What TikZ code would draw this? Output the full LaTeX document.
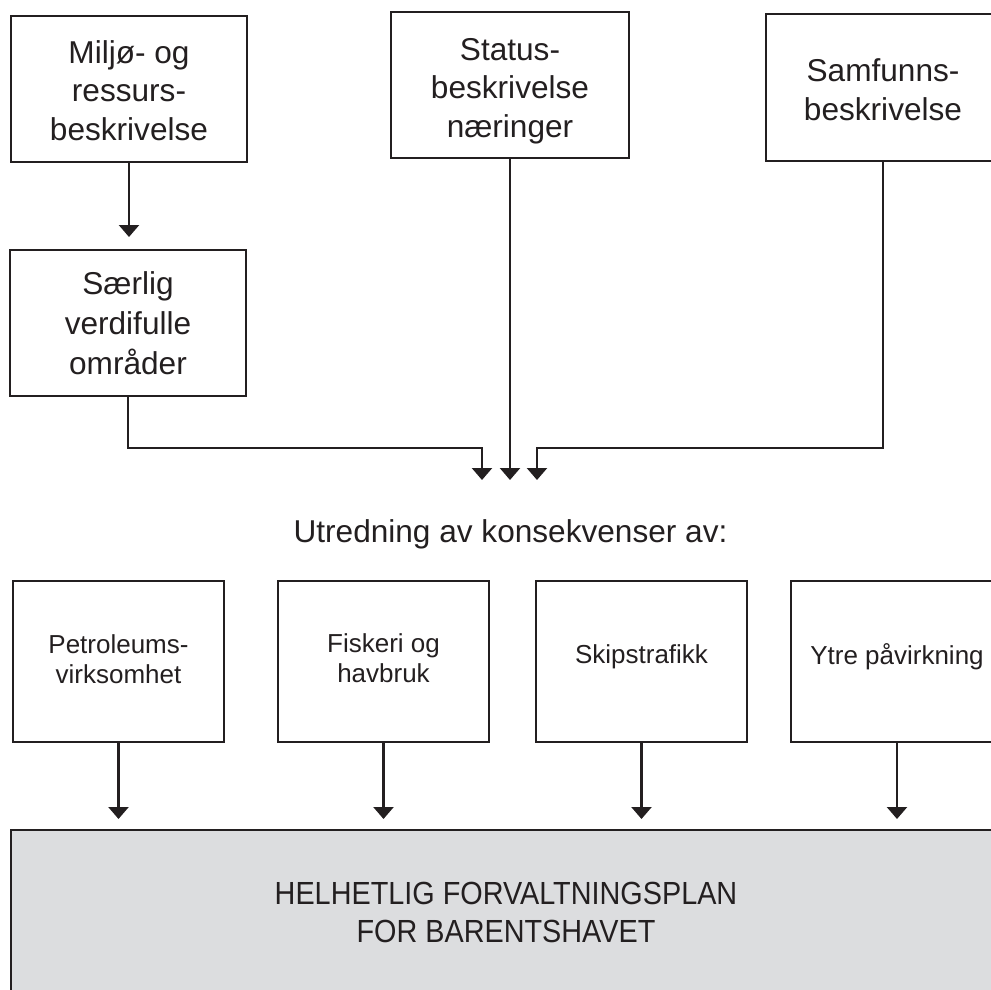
\documentclass[tikz,border=0pt]{standalone}
\usepackage{fontspec}
\setmainfont{Liberation Sans}
\newfontfamily\narrowfont[FakeStretch=0.9]{Liberation Sans}
\usetikzlibrary{arrows.meta}
\definecolor{ink}{HTML}{231F20}
\definecolor{panel}{HTML}{DCDDDF}
\begin{document}
\begin{tikzpicture}[x=1pt,y=-1pt,
  box/.style={draw=ink, line width=2.6pt, rectangle, inner sep=0pt, outer sep=0pt},
  bigtxt/.style={font=\fontsize{31.6}{38.5}\selectfont, align=center, text=ink, inner sep=0pt},
  smalltxt/.style={font=\fontsize{26}{30}\selectfont, align=center, text=ink, inner sep=0pt},
  conn/.style={draw=ink, line width=2.4pt, -{Triangle[width=20pt,length=12pt]}},
]
\useasboundingbox (0,0) rectangle (991,990);

% top row
\node[box, minimum width=236pt, minimum height=146pt] (m) at (129,89) {};
\node[bigtxt, yshift=-1.5pt] (mt) at (m.center) {Miljø- og\\ressurs-\\beskrivelse};
\node[box, minimum width=238pt, minimum height=146pt] (st) at (510,85) {};
\node[bigtxt, yshift=-6pt] (stt) at (st.center) {Status-\\beskrivelse\\næringer};
\node[box, minimum width=234pt, minimum height=147pt] (sa) at (883,87.5) {};
\node[bigtxt, yshift=-2pt] (sat) at (sa.center) {Samfunns-\\beskrivelse};

% second
\node[box, minimum width=236pt, minimum height=146pt] (s) at (128,323) {};
\node[bigtxt, font=\fontsize{31.6}{40}\selectfont] (sxt) at (s.center) {Særlig\\verdifulle\\områder};

% merge targets
\coordinate (t1) at (482,480);
\coordinate (t2) at (510,480);
\coordinate (t3) at (537,480);

\draw[conn, shorten >=13pt] (m.south) -- (m.south |- s.north);
\draw[conn] (s.south) |- ([yshift=32pt]t1) -- (t1);
\draw[conn] (st.south) -- (t2);
\draw[conn] (sa.south) |- ([yshift=32pt]t3) -- (t3);

\node[bigtxt, anchor=base] (u) at (510.5,542) {Utredning av konsekvenser av:};

% bottom row
\node[box, minimum width=211pt, minimum height=161pt] (p) at (118.5,661.5) {};
\node[smalltxt, yshift=2pt] (pt) at (p.center) {Petroleums-\\virksomhet};
\node[box, minimum width=211pt, minimum height=161pt] (f) at (383.5,661.5) {};
\node[smalltxt, yshift=3pt] (ft) at (f.center) {Fiskeri og\\havbruk};
\node[box, minimum width=211pt, minimum height=161pt] (k) at (641.5,661.5) {};
\node[smalltxt, yshift=4.5pt] (kt) at (k.center) {Skipstrafikk};
\node[box, minimum width=212pt, minimum height=161pt] (y) at (897,661.5) {};
\node[smalltxt, yshift=4.5pt] (yt) at (y.center) {Ytre påvirkning};

\node[box, fill=panel, minimum width=990pt, minimum height=220pt] (g) at (506,940) {};
\node[bigtxt, font=\narrowfont\fontsize{32}{38}\selectfont] (gt) at (506,912.5) {HELHETLIG FORVALTNINGSPLAN\\FOR BARENTSHAVET};

\foreach \b in {p,f,k,y}{
  \draw[conn, shorten >=11pt] (\b.south) -- (\b.south |- g.north);
}
\end{tikzpicture}
\end{document}
